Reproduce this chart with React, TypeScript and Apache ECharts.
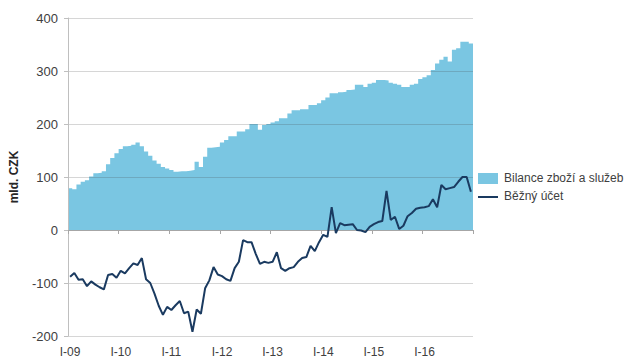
import React, { useEffect, useRef } from "react";
import * as echarts from "echarts";

const yearLabels = ["I-09", "I-10", "I-11", "I-12", "I-13", "I-14", "I-15", "I-16"];

// monthly categories Jan 2009 – Dec 2016
const months: string[] = [];
for (let y = 0; y < 8; y++) {
  for (let m = 0; m < 12; m++) {
    months.push(m === 0 ? yearLabels[y] : `${m + 1}-${String(9 + y).padStart(2, "0")}`);
  }
}

const seriesNames = ["Bilance zboží a služeb", "Běžný účet"];

const bilance = [
  79, 77, 86, 91, 94, 101, 107, 108, 111, 124, 136, 145,
  153, 158, 159, 161, 165, 158, 148, 140, 131, 125, 119, 116,
  113, 110, 111, 111, 112, 113, 129, 119, 138, 155, 156, 157,
  165, 170, 177, 177, 186, 186, 190, 200, 200, 189, 198, 200,
  203, 205, 211, 211, 220, 226, 226, 228, 228, 236, 236, 239,
  245, 250, 258, 258, 260, 261, 264, 265, 274, 274, 270, 276,
  278, 283, 283, 282, 278, 276, 274, 270, 270, 274, 276, 285,
  288, 292, 302, 314, 321, 327, 318, 340, 343, 355, 355, 352,
];

const ucet = [
  -88, -81, -94, -93, -106, -97, -103, -108, -112, -85, -83, -90,
  -77, -82, -72, -63, -66, -53, -93, -100, -120, -143, -160, -145,
  -151, -142, -134, -157, -154, -192, -150, -158, -110, -95, -70, -84,
  -87, -93, -96, -72, -60, -19, -23, -23, -45, -64, -60, -62,
  -60, -42, -72, -77, -72, -70, -60, -53, -51, -30, -40, -23,
  -9, -13, 43, -6, 13, 9, 10, 11, 0, -1, -4, 6,
  11, 15, 17, 74, 19, 25, 2, 8, 26, 32, 40, 42,
  43, 45, 58, 43, 85, 77, 79, 81, 91, 100, 100, 72,
];

const FONT = "Liberation Sans";
const AREA = "#7ac6e2";
const LINE = "#1a3a60";

export default function App() {
  const ref = useRef<HTMLDivElement>(null);
  useEffect(() => {
    if (!ref.current) return;
    const chart = echarts.init(ref.current, null, { renderer: "svg" });
    // month boundaries (97) for a stepped column area spanning each month
    const boundaries = [...months, "end"];
    const stepData = [...bilance, bilance[bilance.length - 1]];
    chart.setOption({
      animation: false,
      textStyle: { fontFamily: FONT },
      grid: { left: 64, right: 156, top: 18, bottom: 24 },
      graphic: [
        { type: "rect", left: 478, top: 173, shape: { width: 20, height: 11 }, style: { fill: AREA } },
        {
          type: "text",
          left: 504,
          top: 172,
          style: { text: seriesNames[0], fill: "#404040", font: `12px '${FONT}'` },
        },
        {
          type: "line",
          shape: { x1: 478, y1: 197, x2: 498, y2: 197 },
          style: { stroke: LINE, lineWidth: 2 },
        },
        {
          type: "text",
          left: 504,
          top: 190,
          style: { text: seriesNames[1], fill: "#404040", font: `12px '${FONT}'` },
        },
      ],
      xAxis: [
        {
          type: "category",
          data: months,
          boundaryGap: true,
          z: 3,
          axisLine: { onZero: true, lineStyle: { color: "#a6a6a6", width: 1 } },
          axisTick: {
            show: true,
            length: 4,
            interval: (i: number) => i % 12 === 0,
            lineStyle: { color: "#a6a6a6" },
          },
          axisLabel: { show: false },
          splitLine: { show: false },
        },
        {
          type: "category",
          data: months,
          position: "bottom",
          boundaryGap: true,
          axisLine: { show: false, onZero: false },
          axisTick: { show: false },
          axisLabel: {
            interval: (i: number) => i % 12 === 0,
            color: "#404040",
            fontSize: 12,
            fontFamily: FONT,
            margin: 10,
          },
          splitLine: { show: false },
        },
        {
          type: "category",
          data: boundaries,
          boundaryGap: false,
          show: false,
        },
      ],
      yAxis: {
        type: "value",
        min: -200,
        max: 400,
        interval: 100,
        z: 3,
        name: "mld. CZK",
        nameLocation: "middle",
        nameGap: 48,
        nameTextStyle: { fontFamily: FONT, fontSize: 12, fontWeight: "bold", color: "#262626" },
        axisLine: { show: true, lineStyle: { color: "#bfbfbf" } },
        axisTick: { show: true, length: 4, lineStyle: { color: "#bfbfbf" } },
        axisLabel: { color: "#404040", fontSize: 13, fontFamily: FONT, margin: 10 },
        splitLine: { show: true, lineStyle: { color: "rgba(70,70,70,0.22)", width: 1 } },
      },
      series: [
        {
          name: seriesNames[0],
          type: "line",
          xAxisIndex: 2,
          data: stepData,
          step: "end",
          symbol: "none",
          lineStyle: { width: 0, color: AREA },
          areaStyle: { color: AREA, opacity: 1 },
          z: 1,
        },
        {
          name: seriesNames[1],
          type: "line",
          xAxisIndex: 0,
          data: ucet,
          symbol: "none",
          lineStyle: { color: LINE, width: 2 },
          itemStyle: { color: LINE },
          z: 5,
        },
      ],
    });
    return () => chart.dispose();
  }, []);
  return (
    <div
      ref={ref}
      style={{ position: "absolute", left: 0, top: 0, width: 629, height: 360 }}
    />
  );
}
